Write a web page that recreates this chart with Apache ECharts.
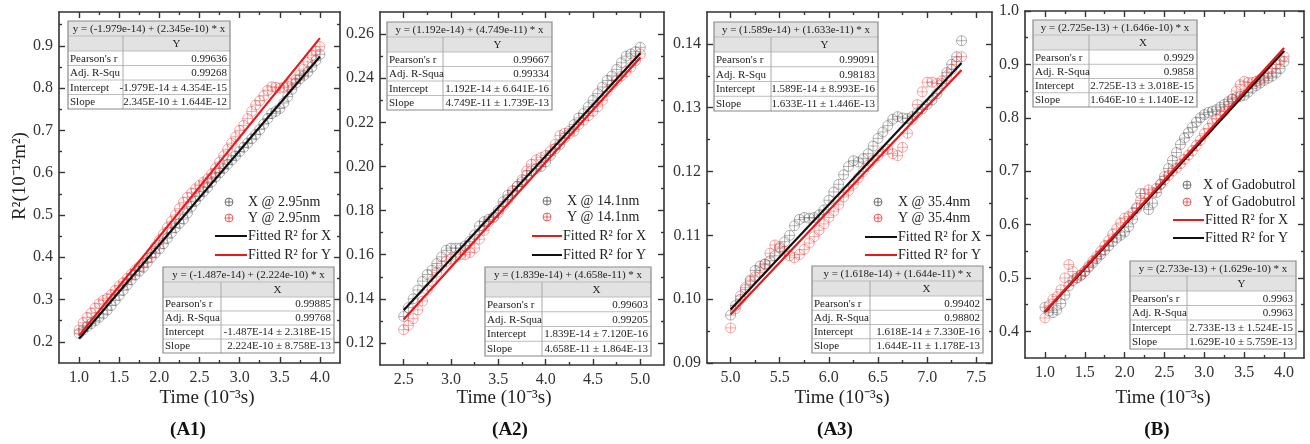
<!DOCTYPE html>
<html><head><meta charset="utf-8">
<script src="https://cdn.jsdelivr.net/npm/echarts@6/dist/echarts.min.js"></script>
<style>html,body{margin:0;padding:0;background:#fff}#c{width:1310px;height:444px}</style>
</head><body><div id="c"></div>
<script>
// ---------------- DATA ----------------
const timeA1 = [1.00,1.05,1.10,1.15,1.20,1.25,1.30,1.35,1.40,1.45,1.50,1.55,1.60,1.65,1.70,1.75,1.80,1.85,1.90,1.95,2.00,2.05,2.10,2.15,2.20,2.25,2.30,2.35,2.40,2.45,2.50,2.55,2.60,2.65,2.70,2.75,2.80,2.85,2.90,2.95,3.00,3.05,3.10,3.15,3.20,3.25,3.30,3.35,3.40,3.45,3.50,3.55,3.60,3.65,3.70,3.75,3.80,3.85,3.90,3.95,4.00];
const xA1 = [0.220,0.228,0.236,0.243,0.250,0.258,0.266,0.275,0.286,0.298,0.310,0.322,0.335,0.347,0.358,0.367,0.376,0.388,0.400,0.410,0.420,0.432,0.445,0.458,0.470,0.480,0.490,0.505,0.520,0.533,0.545,0.555,0.565,0.578,0.590,0.600,0.610,0.620,0.630,0.640,0.650,0.660,0.670,0.680,0.690,0.702,0.715,0.728,0.740,0.745,0.752,0.765,0.780,0.797,0.812,0.822,0.830,0.838,0.850,0.865,0.880];
const yA1 = [0.228,0.245,0.258,0.268,0.280,0.290,0.298,0.303,0.312,0.322,0.332,0.340,0.350,0.360,0.370,0.378,0.386,0.397,0.410,0.425,0.440,0.455,0.470,0.485,0.500,0.515,0.530,0.542,0.552,0.562,0.570,0.578,0.585,0.597,0.610,0.625,0.640,0.655,0.670,0.685,0.700,0.712,0.728,0.745,0.760,0.770,0.782,0.795,0.803,0.802,0.800,0.802,0.805,0.812,0.820,0.830,0.845,0.862,0.878,0.888,0.898];
const fitXA1 = [[1.0,0.2075],[4.0,0.8747]];
const fitYA1 = [[1.0,0.2147],[4.0,0.9182]];

const timeA2 = [2.50,2.55,2.60,2.65,2.70,2.75,2.80,2.85,2.90,2.95,3.00,3.05,3.10,3.15,3.20,3.25,3.30,3.35,3.40,3.45,3.50,3.55,3.60,3.65,3.70,3.75,3.80,3.85,3.90,3.95,4.00,4.05,4.10,4.15,4.20,4.25,4.30,4.35,4.40,4.45,4.50,4.55,4.60,4.65,4.70,4.75,4.80,4.85,4.90,4.95,5.00];
const xA2 = [0.132,0.136,0.140,0.144,0.148,0.151,0.153,0.156,0.159,0.162,0.163,0.163,0.163,0.164,0.166,0.169,0.173,0.175,0.176,0.177,0.180,0.184,0.187,0.189,0.191,0.193,0.196,0.198,0.199,0.200,0.202,0.205,0.208,0.210,0.213,0.216,0.219,0.222,0.224,0.227,0.230,0.233,0.236,0.239,0.241,0.244,0.247,0.250,0.251,0.252,0.254];
const yA2 = [0.126,0.128,0.131,0.135,0.139,0.144,0.148,0.152,0.155,0.157,0.158,0.159,0.160,0.160,0.161,0.163,0.167,0.171,0.175,0.177,0.179,0.182,0.185,0.188,0.191,0.194,0.198,0.201,0.203,0.204,0.205,0.207,0.210,0.214,0.215,0.215,0.216,0.219,0.221,0.223,0.225,0.227,0.230,0.234,0.237,0.239,0.241,0.243,0.245,0.248,0.251];
const fitXA2 = [[2.5,0.1348],[5.0,0.2513]];
const fitYA2 = [[2.5,0.1306],[5.0,0.2494]];

const timeA3 = [5.00,5.05,5.10,5.15,5.20,5.25,5.30,5.35,5.40,5.45,5.50,5.55,5.60,5.65,5.70,5.75,5.80,5.85,5.90,5.95,6.00,6.05,6.10,6.15,6.20,6.25,6.30,6.35,6.40,6.45,6.50,6.55,6.60,6.65,6.70,6.75,6.80,6.85,6.90,6.95,7.00,7.05,7.10,7.15,7.20,7.25,7.30,7.35];
const xA3 = [0.0975,0.0990,0.1000,0.1015,0.1030,0.1045,0.1052,0.1055,0.1060,0.1068,0.1080,0.1090,0.1100,0.1115,0.1125,0.1128,0.1127,0.1128,0.1132,0.1140,0.1155,0.1168,0.1180,0.1195,0.1208,0.1217,0.1215,0.1220,0.1228,0.1240,0.1252,0.1262,0.1272,0.1282,0.1286,0.1284,0.1283,0.1286,0.1292,0.1298,0.1305,0.1312,0.1322,0.1338,0.1355,0.1368,0.1380,0.1405];
const yA3 = [0.0955,0.0985,0.1005,0.1018,0.1028,0.1035,0.1042,0.1055,0.1072,0.1085,0.1082,0.1075,0.1068,0.1065,0.1070,0.1078,0.1088,0.1098,0.1108,0.1118,0.1128,0.1138,0.1148,0.1160,0.1170,0.1180,0.1190,0.1200,0.1210,0.1218,0.1225,0.1232,0.1235,0.1228,0.1225,0.1238,0.1260,0.1282,0.1305,0.1325,0.1340,0.1340,0.1338,0.1342,0.1350,0.1360,0.1372,0.1380];
const fitXA3 = [[5.0,0.0984],[7.35,0.1370]];
const fitYA3 = [[5.0,0.0976],[7.35,0.1359]];

const timeB = [1.00,1.05,1.10,1.15,1.20,1.25,1.30,1.35,1.40,1.45,1.50,1.55,1.60,1.65,1.70,1.75,1.80,1.85,1.90,1.95,2.00,2.05,2.10,2.15,2.20,2.25,2.30,2.35,2.40,2.45,2.50,2.55,2.60,2.65,2.70,2.75,2.80,2.85,2.90,2.95,3.00,3.05,3.10,3.15,3.20,3.25,3.30,3.35,3.40,3.45,3.50,3.55,3.60,3.65,3.70,3.75,3.80,3.85,3.90,3.95,4.00];
const xB = [0.445,0.438,0.435,0.440,0.452,0.468,0.485,0.495,0.500,0.505,0.512,0.520,0.528,0.536,0.544,0.552,0.560,0.568,0.575,0.580,0.586,0.596,0.610,0.630,0.658,0.640,0.628,0.640,0.660,0.675,0.690,0.705,0.720,0.735,0.750,0.762,0.772,0.782,0.792,0.800,0.806,0.810,0.812,0.815,0.820,0.825,0.830,0.835,0.838,0.840,0.842,0.848,0.855,0.860,0.865,0.870,0.874,0.878,0.884,0.892,0.905];
const yB = [0.425,0.448,0.460,0.465,0.478,0.500,0.525,0.512,0.500,0.505,0.512,0.522,0.532,0.540,0.550,0.560,0.570,0.582,0.592,0.603,0.612,0.615,0.622,0.632,0.645,0.658,0.665,0.660,0.668,0.676,0.684,0.692,0.700,0.706,0.714,0.722,0.730,0.738,0.748,0.758,0.770,0.780,0.790,0.798,0.805,0.812,0.822,0.835,0.850,0.862,0.868,0.866,0.866,0.868,0.872,0.876,0.884,0.892,0.900,0.908,0.915];
const fitXB = [[1.0,0.4371],[4.0,0.9309]];
const fitYB = [[1.0,0.4362],[4.0,0.9249]];

// tick labels
const xTicksA1 = [1.0,1.5,2.0,2.5,3.0,3.5,4.0];
const xMinorA1 = [1.25,1.75,2.25,2.75,3.25,3.75];
const yTicksA1 = [0.2,0.3,0.4,0.5,0.6,0.7,0.8,0.9];
const yMinorA1 = [0.25,0.35,0.45,0.55,0.65,0.75,0.85,0.95];
const xTicksA2 = [2.5,3.0,3.5,4.0,4.5,5.0];
const xMinorA2 = [2.75,3.25,3.75,4.25,4.75];
const yTicksA2 = [0.12,0.14,0.16,0.18,0.20,0.22,0.24,0.26];
const yMinorA2 = [0.13,0.15,0.17,0.19,0.21,0.23,0.25];
const xTicksA3 = [5.0,5.5,6.0,6.5,7.0,7.5];
const xMinorA3 = [5.25,5.75,6.25,6.75,7.25];
const yTicksA3 = [0.09,0.10,0.11,0.12,0.13,0.14];
const yMinorA3 = [0.095,0.105,0.115,0.125,0.135];
const xTicksB = [1.0,1.5,2.0,2.5,3.0,3.5,4.0];
const xMinorB = [1.25,1.75,2.25,2.75,3.25,3.75];
const yTicksB = [0.4,0.5,0.6,0.7,0.8,0.9,1.0];
const yMinorB = [0.45,0.55,0.65,0.75,0.85,0.95];

// fit tables
const tblA1Y = ['y = (-1.979e-14) + (2.345e-10) * x','Y',["Pearson's r",'0.99636'],['Adj. R-Squ','0.99268'],['Intercept','-1.979E-14 ± 4.354E-15'],['Slope','2.345E-10 ± 1.644E-12']];
const tblA1X = ['y = (-1.487e-14) + (2.224e-10) * x','X',["Pearson's r",'0.99885'],['Adj. R-Squa','0.99768'],['Intercept','-1.487E-14 ± 2.318E-15'],['Slope','2.224E-10 ± 8.758E-13']];
const tblA2Y = ['y = (1.192e-14) + (4.749e-11) * x','Y',["Pearson's r",'0.99667'],['Adj. R-Squa','0.99334'],['Intercept','1.192E-14 ± 6.641E-16'],['Slope','4.749E-11 ± 1.739E-13']];
const tblA2X = ['y = (1.839e-14) + (4.658e-11) * x','X',["Pearson's r",'0.99603'],['Adj. R-Squa','0.99205'],['Intercept','1.839E-14 ± 7.120E-16'],['Slope','4.658E-11 ± 1.864E-13']];
const tblA3Y = ['y = (1.589e-14) + (1.633e-11) * x','Y',["Pearson's r",'0.99091'],['Adj. R-Squ','0.98183'],['Intercept','1.589E-14 ± 8.993E-16'],['Slope','1.633E-11 ± 1.446E-13']];
const tblA3X = ['y = (1.618e-14) + (1.644e-11) * x','X',["Pearson's r",'0.99402'],['Adj. R-Squa','0.98802'],['Intercept','1.618E-14 ± 7.330E-16'],['Slope','1.644E-11 ± 1.178E-13']];
const tblBX = ['y = (2.725e-13) + (1.646e-10) * x','X',["Pearson's r",'0.9929'],['Adj. R-Squa','0.9858'],['Intercept','2.725E-13 ± 3.018E-15'],['Slope','1.646E-10 ± 1.140E-12']];
const tblBY = ['y = (2.733e-13) + (1.629e-10) * x','Y',["Pearson's r",'0.9963'],['Adj. R-Squa','0.9963'],['Intercept','2.733E-13 ± 1.524E-15'],['Slope','1.629E-10 ± 5.759E-13']];

const legA1 = ['X @ 2.95nm','Y @ 2.95nm','Fitted R² for X','Fitted R² for Y'];
const legA2 = ['X @ 14.1nm','Y @ 14.1nm','Fitted R² for X','Fitted R² for Y'];
const legA3 = ['X @ 35.4nm','Y @ 35.4nm','Fitted R² for X','Fitted R² for Y'];
const legB  = ['X of Gadobutrol','Y of Gadobutrol','Fitted R² for X','Fitted R² for Y'];
const panelLabels = ['(A1)','(A2)','(A3)','(B)'];
const xTitle = 'Time (10⁻³s)';
const yTitle = 'R²(10⁻¹²m²)';

// ---------------- LAYOUT ----------------
const FONT = '"Liberation Serif","Times New Roman",serif';
const GRAY_PT = 'rgba(70,70,70,0.5)';
const RED_PT = 'rgba(235,45,45,0.5)';
const BLACK_LN = '#111';
const RED_LN = '#e8191c';
const AX = '#333';

const panels = [
  {grid:{left:59,top:12,width:281,height:351}, xr:[0.75,4.25], yr:[0.15,0.98], xd:1, yd:1,
   t:timeA1, x:xA1, y:yA1, fx:fitXA1, fy:fitYA1, fxc:BLACK_LN, fyc:RED_LN,
   xt:xTicksA1, xm:xMinorA1, yt:yTicksA1, ym:yMinorA1,
   tU:[68,21,162,123,88,tblA1Y], tL:[163,267,171,221,86,tblA1X],
   leg:legA1, lm:229, lt:248, lx:[215,247], ly:[202,218,236,255], lc:[BLACK_LN,RED_LN],
   xtx:207, lab:188},
  {grid:{left:380,top:12,width:284,height:353}, xr:[2.25,5.25], yr:[0.11,0.27], xd:1, yd:2,
   t:timeA2, x:xA2, y:yA2, fx:fitXA2, fy:fitYA2, fxc:BLACK_LN, fyc:RED_LN,
   xt:xTicksA2, xm:xMinorA2, yt:yTicksA2, ym:yMinorA2,
   tU:[387,22,165,443,88,tblA2Y], tL:[485,267,166,542,89,tblA2X],
   leg:legA2, lm:547, lt:567, lx:[532,562], ly:[201,217,236,255], lc:[RED_LN,BLACK_LN],
   xtx:504, lab:510},
  {grid:{left:707,top:12,width:285,height:351}, xr:[4.76,7.66], yr:[0.09,0.145], xd:1, yd:2,
   t:timeA3, x:xA3, y:yA3, fx:fitXA3, fy:fitYA3, fxc:BLACK_LN, fyc:RED_LN,
   xt:xTicksA3, xm:xMinorA3, yt:yTicksA3, ym:yMinorA3,
   tU:[714,22,164,771,89,tblA3Y], tL:[812,266,171,870,87,tblA3X],
   leg:legA3, lm:878, lt:898, lx:[865,897], ly:[202,218,237,255], lc:[BLACK_LN,RED_LN],
   xtx:842, lab:835},
  {grid:{left:1025,top:11,width:279,height:347}, xr:[0.75,4.25], yr:[0.35,1.0], xd:1, yd:1,
   t:timeB, x:xB, y:yB, fx:fitXB, fy:fitYB, fxc:RED_LN, fyc:BLACK_LN,
   xt:xTicksB, xm:xMinorB, yt:yTicksB, ym:yMinorB,
   tU:[1033,20,164,1089,87,tblBX], tL:[1130,261,166,1187,88,tblBY],
   leg:legB, lm:1187, lt:1203, lx:[1173,1204], ly:[185,202,220,238], lc:[RED_LN,BLACK_LN],
   xtx:1163, lab:1157}
];

const SYM = 'path://M10,0A10,10,0,1,1,-10,0A10,10,0,1,1,10,0ZM-10,0L10,0M0,-10L0,10';

function mkAxis(gi, range, position, ticks, len, labelVals, dec, showLine) {
  return {
    type:'value', gridIndex:gi, min:range[0], max:range[1], position:position,
    splitLine:{show:false},
    axisLine:{show:showLine, onZero:false, lineStyle:{color:AX, width:1.6}},
    axisTick:{show:true, inside:true, length:len, customValues:ticks, lineStyle:{color:AX, width:1.4}},
    axisLabel: labelVals ? {show:true, customValues:labelVals, formatter:v=>Number(v).toFixed(dec),
       fontFamily:FONT, fontSize:16, color:'#333', margin: (position==='bottom'?7:6)} : {show:false},
    splitArea:{show:false}
  };
}

const grids=[], xAxes=[], yAxes=[], series=[], graphics=[];
panels.forEach((p,gi)=>{
  grids.push(Object.assign({containLabel:false}, p.grid));
  const xb = xAxes.length;
  xAxes.push(mkAxis(gi,p.xr,'bottom',p.xt,6,p.xt,p.xd,true));
  xAxes.push(mkAxis(gi,p.xr,'top',p.xt,6,null,0,true));
  xAxes.push(mkAxis(gi,p.xr,'bottom',p.xm,3,null,0,false));
  xAxes.push(mkAxis(gi,p.xr,'top',p.xm,3,null,0,false));
  const yb = yAxes.length;
  yAxes.push(mkAxis(gi,p.yr,'left',p.yt,6,p.yt,p.yd,true));
  yAxes.push(mkAxis(gi,p.yr,'right',p.yt,6,null,0,true));
  yAxes.push(mkAxis(gi,p.yr,'left',p.ym,3,null,0,false));
  yAxes.push(mkAxis(gi,p.yr,'right',p.ym,3,null,0,false));
  const common = {xAxisIndex:xb, yAxisIndex:yb, animation:false};
  series.push(Object.assign({type:'scatter', symbol:SYM, symbolSize:10,
    data:p.t.map((t,i)=>[t,p.x[i]]),
    itemStyle:{color:'rgba(0,0,0,0)', borderColor:GRAY_PT, borderWidth:1}, z:2}, common));
  series.push(Object.assign({type:'scatter', symbol:SYM, symbolSize:10,
    data:p.t.map((t,i)=>[t,p.y[i]]),
    itemStyle:{color:'rgba(0,0,0,0)', borderColor:RED_PT, borderWidth:1}, z:3}, common));
  const lines = [[p.fx,p.fxc],[p.fy,p.fyc]];
  if (gi===3) lines.reverse();
  lines.forEach((L,k)=>series.push(Object.assign({type:'line', data:L[0], symbol:'none',
    lineStyle:{color:L[1], width:2.2}, z:4+k}, common)));

  [p.tU,p.tL].forEach(tb=>graphics.push(...table(...tb)));
  graphics.push(...legend(p));
  graphics.push({type:'text', x:p.xtx, y:398, z:100, style:{text:xTitle, fontFamily:FONT, fontSize:19, fill:'#222', align:'center', verticalAlign:'middle'}});
  graphics.push({type:'text', x:p.lab, y:430, z:100, style:{text:panelLabels[gi], fontFamily:FONT, fontSize:19, fontWeight:'bold', fill:'#111', align:'center', verticalAlign:'middle'}});
});
graphics.push({type:'text', x:20, y:176, rotation:Math.PI/2, z:100, style:{text:yTitle, fontFamily:FONT, fontSize:19, fill:'#222', align:'center', verticalAlign:'middle'}});

function table(x,y,w,div,h,T){
  const r1=15, r2=15, rh=(h-r1-r2)/4, out=[];
  const Z=100;
  out.push({type:'rect', z:Z, shape:{x:x,y:y,width:w,height:h}, style:{fill:'#fff', stroke:'none'}});
  out.push({type:'rect', z:Z, shape:{x:x,y:y,width:w,height:r1+r2}, style:{fill:'#e2e2e2', stroke:'none'}});
  const hl=[y+r1, y+r1+r2];
  for(let i=1;i<4;i++) hl.push(y+r1+r2+rh*i);
  hl.forEach(yy=>out.push({type:'line', z:Z, shape:{x1:x,y1:yy,x2:x+w,y2:yy}, style:{stroke:'#bdbdbd', lineWidth:1}}));
  out.push({type:'line', z:Z, shape:{x1:div,y1:y+r1,x2:div,y2:y+h}, style:{stroke:'#a8a8a8', lineWidth:1}});
  out.push({type:'rect', z:Z, shape:{x:x,y:y,width:w,height:h}, style:{fill:'none', stroke:'#8a8a8a', lineWidth:1.2}});
  const fs={fontFamily:FONT, fontSize:11, fill:'#222', verticalAlign:'middle'};
  out.push({type:'text', z:Z+1, x:x+w/2, y:y+r1/2+0.5, style:Object.assign({text:T[0], align:'center'},fs)});
  out.push({type:'text', z:Z+1, x:(div+x+w)/2, y:y+r1+r2/2+0.5, style:Object.assign({text:T[1], align:'center'},fs)});
  for(let i=0;i<4;i++){
    const cy=y+r1+r2+rh*(i+0.5)+0.5;
    out.push({type:'text', z:Z+1, x:x+2, y:cy, style:Object.assign({text:T[2+i][0], align:'left'},fs)});
    out.push({type:'text', z:Z+1, x:x+w-3, y:cy, style:Object.assign({text:T[2+i][1], align:'right'},fs)});
  }
  return out;
}
function legend(p){
  const out=[], Z=100;
  const mk=(cx,cy,col)=>{
    out.push({type:'circle', z:Z, shape:{cx:cx,cy:cy,r:4}, style:{fill:'none', stroke:col, lineWidth:0.9}});
    out.push({type:'line', z:Z, shape:{x1:cx-4,y1:cy,x2:cx+4,y2:cy}, style:{stroke:col, lineWidth:0.9}});
    out.push({type:'line', z:Z, shape:{x1:cx,y1:cy-4,x2:cx,y2:cy+4}, style:{stroke:col, lineWidth:0.9}});
  };
  mk(p.lm,p.ly[0],'rgba(70,70,70,0.8)');
  mk(p.lm,p.ly[1],'rgba(235,45,45,0.8)');
  [2,3].forEach((k,j)=>out.push({type:'line', z:Z, shape:{x1:p.lx[0],y1:p.ly[k],x2:p.lx[1],y2:p.ly[k]}, style:{stroke:p.lc[j], lineWidth:2}}));
  p.leg.forEach((s,i)=>out.push({type:'text', z:Z, x:(i<2?p.lt:p.lx[1]+1), y:p.ly[i], style:{text:s, fontFamily:FONT, fontSize:14, fill:'#222', verticalAlign:'middle'}}));
  return out;
}

const chart = echarts.init(document.getElementById('c'), null, {renderer:'canvas'});
chart.setOption({animation:false, backgroundColor:'#fff', grid:grids, xAxis:xAxes, yAxis:yAxes, series:series, graphic:graphics});
</script></body></html>
